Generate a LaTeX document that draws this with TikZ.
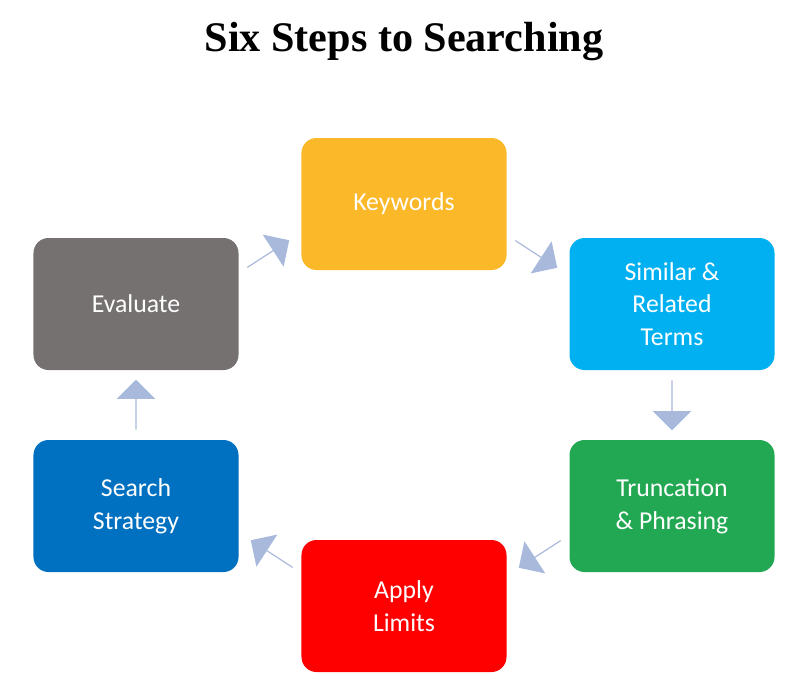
\documentclass[tikz,border=0pt]{standalone}
\usepackage{fontspec}
\setmainfont{Carlito}
\newfontfamily\titlefont{Liberation Serif}
\usetikzlibrary{shapes.arrows}
\definecolor{ckey}{HTML}{FBB829}
\definecolor{csim}{HTML}{00B0F0}
\definecolor{ctru}{HTML}{22A852}
\definecolor{capp}{HTML}{FF0000}
\definecolor{csea}{HTML}{0070C0}
\definecolor{ceva}{HTML}{767171}
\definecolor{carr}{HTML}{A9B9DC}
\tikzset{
 stepbox/.style={rounded corners=0.45cm, minimum width=6.15cm, minimum height=3.96cm, text=white, align=center, font=\fontsize{22}{28}\selectfont, inner sep=0},
 blockarrow/.style={single arrow, fill=carr, draw=none, minimum height=1.5cm, minimum width=1.15cm, single arrow head extend=0.22cm, inner sep=0}
}
\begin{document}
\begin{tikzpicture}[x=0.03cm,y=-0.03cm]
\useasboundingbox (0,0) rectangle (811,694);
\node[font=\titlefont\bfseries\fontsize{36}{40}\selectfont] (title) at (404,42) {Six Steps to Searching};
\node[stepbox, fill=ckey] (k) at (404,204) {Keywords};
\node[stepbox, fill=csim] (s) at (672,304) {Similar \&\\Related\\Terms};
\node[stepbox, fill=ctru] (t) at (672,506) {Truncation\\\& Phrasing};
\node[stepbox, fill=capp] (a) at (404,606) {Apply\\Limits};
\node[stepbox, fill=csea] (ss) at (136,506) {Search\\Strategy};
\node[stepbox, fill=ceva] (e) at (136,304) {Evaluate};
\node[blockarrow, rotate=33] (a1) at (268,254) {};
\node[blockarrow, rotate=-33] (a2) at (536,254) {};
\node[blockarrow, rotate=-90] (a3) at (672,405) {};
\node[blockarrow, rotate=213] (a4) at (540,554) {};
\node[blockarrow, rotate=147] (a5) at (272,554) {};
\node[blockarrow, rotate=90] (a6) at (136,405) {};
\end{tikzpicture}
\end{document}
